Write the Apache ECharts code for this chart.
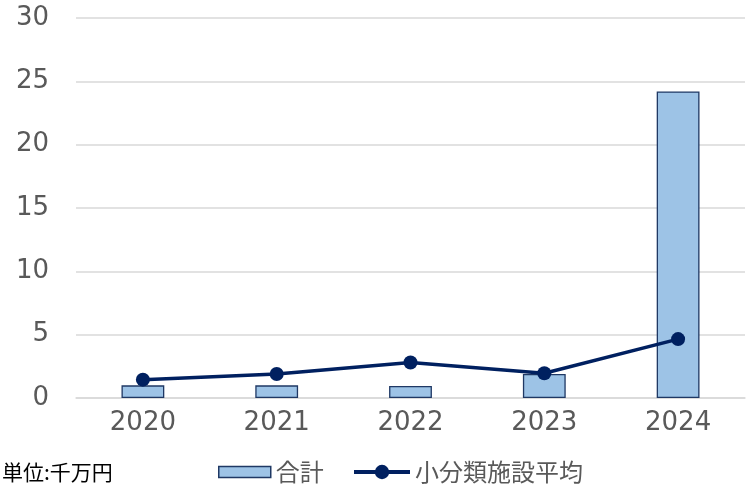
<!DOCTYPE html>
<html>
<head>
<meta charset="utf-8">
<script src="https://cdn.jsdelivr.net/npm/echarts@6/dist/echarts.min.js"></script>
<style>
html, body { margin: 0; padding: 0; background: #fff; }
#chart { width: 748px; height: 490px; }
</style>
</head>
<body>
<div id="chart"></div>
<script>
// Fiscal years on the category axis
const years = ['2020', '2021', '2022', '2023', '2024'];
// Total (bars), unit: 10 million yen
const totalValues = [1.0, 1.0, 0.95, 1.9, 24.2];
// Sub-category facility average (line)
const averageValues = [1.45, 1.9, 2.8, 1.95, 4.65];
// Value axis ticks
const yTicks = [0, 5, 10, 15, 20, 25, 30];

const cjkFont = '"Noto Sans CJK JP", "Noto Sans", sans-serif';
const numFont = '"DejaVu Sans", "Noto Sans", sans-serif';
const navy = '#002060';
const chart = echarts.init(document.getElementById('chart'));

chart.setOption({
  animation: false,
  textStyle: { fontFamily: cjkFont },
  grid: { left: 76, right: 3, top: 18, bottom: 92 },
  legend: [
    {
      left: 213,
      top: 455,
      icon: 'rect',
      itemWidth: 52,
      itemHeight: 11,
      itemStyle: { borderColor: '#1F3864', borderWidth: 1.5 },
      textStyle: { fontSize: 24, color: '#595959', fontFamily: cjkFont },
      data: [{ name: '合計' }]
    },
    {
      left: 347,
      top: 455,
      itemWidth: 56,
      itemHeight: 18,
      lineStyle: { width: 4 },
      textStyle: { fontSize: 24, color: '#595959', fontFamily: cjkFont },
      data: [{ name: '小分類施設平均' }]
    }
  ],
  graphic: [{
    type: 'text',
    left: 2,
    top: 462,
    style: { text: '単位:千万円', fontSize: 21, fill: '#000', fontFamily: cjkFont }
  }],
  xAxis: {
    type: 'category',
    data: years,
    axisLine: { lineStyle: { color: '#D9D9D9', width: 1.5 } },
    axisTick: { show: false },
    axisLabel: { fontSize: 26, color: '#595959', margin: 12, fontFamily: numFont }
  },
  yAxis: {
    type: 'value',
    min: yTicks[0],
    max: yTicks[yTicks.length - 1],
    interval: yTicks[1] - yTicks[0],
    axisLine: { show: false },
    axisTick: { show: false },
    splitLine: { lineStyle: { color: '#D9D9D9', width: 1.5 } },
    axisLabel: { fontSize: 26, color: '#595959', margin: 27, padding: [4, 0, 0, 0], fontFamily: numFont }
  },
  series: [
    {
      name: '合計',
      type: 'bar',
      data: totalValues,
      barWidth: '32%',
      itemStyle: { color: '#9DC3E6', borderColor: '#1F3864', borderWidth: 1.3 }
    },
    {
      name: '小分類施設平均',
      type: 'line',
      data: averageValues,
      symbol: 'circle',
      symbolSize: 14,
      lineStyle: { color: navy, width: 3.5 },
      itemStyle: { color: navy }
    }
  ]
});
</script>
</body>
</html>
